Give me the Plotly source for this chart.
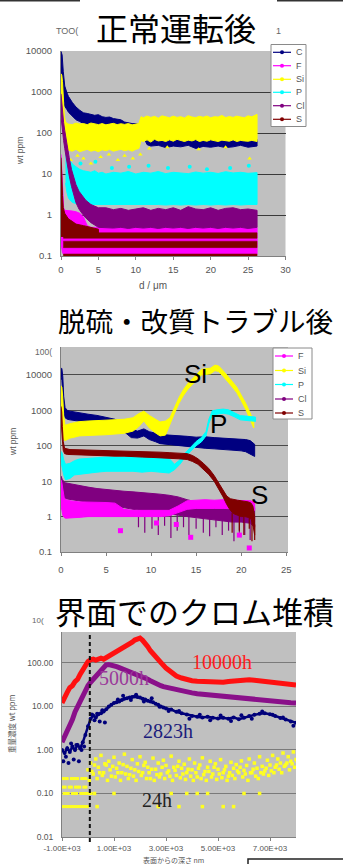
import numpy as np
import plotly.graph_objects as go

W, H = 343, 864


def px(x):
    return x / W


def py(y):
    return 1 - y / H


NAVY = "#000080"
MAGENTA = "#ff00ff"
YELLOW = "#ffff00"
CYAN = "#00ffff"
PURPLE = "#800080"
MAROON = "#800000"
PLOT_BG = "#c0c0c0"
TICK_FONT = dict(family="Liberation Sans, Arial, sans-serif", size=9.5, color="#555555")

# ---------------------------------------------------------------- chart 1: 正常運転後
C1_x = [0, 0.15, 0.3, 0.5, 0.8, 1.0, 1.5, 2.0, 2.5, 3.0, 3.5, 4.0, 4.5, 5.0, 5.5, 6.0, 6.5, 7.0, 7.5, 8.0,
        8.5, 9.0, 9.5, 10.0, 10.5, 11.0, 11.5, 12, 13, 14, 15, 16, 17, 18, 19, 20, 21, 22, 23, 24, 25, 26.2]
C1_hi = [9800, 8000, 3200, 1400, 950, 780, 560, 430, 360, 310, 300, 285, 270, 280, 250, 240, 245, 225, 215, 210,
         185, 175, 170, 168, 160, 120, 80, 72, 70, 68, 74, 66, 70, 72, 65, 68, 74, 70, 66, 72, 68, 70]
C1_lo = [2400, 1600, 800, 450, 370, 320, 260, 210, 190, 170, 160, 165, 150, 150, 140, 145, 135, 140, 130, 130,
         140, 145, 150, 150, 130, 80, 52, 48, 50, 44, 48, 46, 50, 42, 47, 45, 48, 44, 46, 50, 45, 48]

F1_x = [0, 0.1, 0.2, 0.35, 0.5, 1.0, 1.5, 2.0, 2.5, 3.0, 3.5, 4.0, 26.2]
F1_hi = [30, 12, 3, 1.5, 1.3, 1.3, 1.25, 1.2, 1.1, 0.9, 0.55, 0.5, 0.5]
F1_lo = [0.2, 0.15, 0.12, 0.11, 0.11, 0.11, 0.11, 0.11, 0.11, 0.11, 0.11, 0.11, 0.11]

Si1_x = [0, 0.1, 0.2, 0.3, 0.45, 0.6, 0.8, 1.0, 1.5, 2.0, 2.5, 3.0, 3.5, 4.0, 4.5, 5.0, 5.5, 6.0, 6.5, 7.0,
         7.5, 8.0, 8.5, 9.0, 9.5, 10.0, 10.4, 10.7, 11.0, 11.5, 12, 12.5, 13, 13.5, 14, 14.5, 15, 15.5, 16,
         16.5, 17, 17.5, 18, 18.5, 19, 19.5, 20, 20.5, 21, 21.5, 22, 22.5, 23, 23.5, 24, 24.5, 25, 25.5, 26.2]
Si1_hi = [2800, 2600, 1800, 700, 250, 190, 170, 165, 160, 175, 165, 170, 160, 175, 165, 160, 170, 158, 165, 172,
          160, 168, 162, 170, 158, 165, 170, 250, 235, 260, 240, 255, 230, 262, 245, 235, 258, 240, 250,
          232, 265, 245, 238, 255, 242, 260, 235, 250, 245, 268, 238, 252, 240, 258, 246, 235, 262, 248, 285]
Si1_lo = [600, 400, 250, 110, 60, 45, 40, 38, 36, 40, 35, 38, 40, 36, 38, 35, 39, 37, 40, 36,
          38, 40, 37, 39, 36, 40, 42, 65, 62, 68, 60, 70, 64, 66, 62, 68, 63, 70, 65,
          62, 67, 64, 69, 62, 66, 63, 68, 64, 62, 67, 65, 63, 68, 62, 66, 64, 63, 66, 62]
Si1_dip_x = [1.3, 2.2, 3.0, 4.0, 4.6, 5.3, 6.4, 7.6, 8.5, 9.6, 10.6, 11.8, 14.2, 18.4, 22.0, 25.2]
Si1_dip_v = [22, 28, 24, 18, 20, 26, 30, 22, 28, 24, 30, 42, 45, 40, 45, 24]

P1_x = [0.6, 0.8, 1.0, 1.3, 1.6, 2.0, 2.5, 3.0, 3.5, 4, 4.5, 5, 5.5, 6, 7, 8, 9, 10, 11, 12, 13, 14, 15, 16,
        17, 18, 19, 20, 21, 22, 23, 24, 25, 26.2]
P1_hi = [30, 26, 22, 20, 17, 15, 13, 12, 11.5, 11, 12, 10.5, 11, 10, 11, 10.5, 11.5, 10, 11, 10.5, 11.5, 10.2,
         11, 10.8, 10.2, 11.2, 10.5, 11, 10.3, 11.4, 10.6, 11, 10.4, 10.8]
P1_lo = [6, 3.5, 2.6, 2.2, 2.0, 1.9, 1.8, 1.85, 1.8, 1.75, 1.8, 1.8, 1.75, 1.8, 1.75, 1.8, 1.75, 1.8, 1.75,
         1.8, 1.8, 1.75, 1.8, 1.75, 1.8, 1.75, 1.8, 1.75, 1.8, 1.75, 1.8, 1.75, 1.8, 1.8]
P1_peak_x = [2.6, 4.6, 6.8, 9.1, 11.7, 14.3, 17.2, 19.5, 22.6, 25.1]
P1_peak_v = [18, 20, 14, 15, 16, 14, 15, 13, 14, 16]

Cl1_x = [0, 0.08, 0.15, 0.25, 0.35, 0.5, 0.7, 0.9, 1.1, 1.4, 1.7, 2.0, 2.4, 2.8, 3.3, 4, 5, 6, 7, 8, 9, 10,
         11, 12, 13, 14, 15, 16, 17, 18, 19, 20, 21, 22, 23, 24, 25, 26.2]
Cl1_hi = [900, 600, 400, 260, 180, 115, 65, 40, 25, 13, 8.5, 5.5, 3.8, 3.0, 2.3, 1.8, 1.5, 1.5, 1.35, 1.45,
          1.3, 1.4, 1.5, 1.3, 1.45, 1.35, 1.5, 1.3, 1.6, 1.4, 1.35, 1.5, 1.3, 1.45, 1.5, 1.35, 1.4, 1.3]
Cl1_lo = [250, 200, 150, 95, 65, 42, 24, 14, 9, 5, 3, 2, 1.4, 1.1, 0.85, 0.65, 0.5, 0.5, 0.48, 0.5,
          0.47, 0.5, 0.48, 0.5, 0.47, 0.5, 0.48, 0.5, 0.47, 0.5, 0.48, 0.5, 0.47, 0.5, 0.48, 0.5, 0.47, 0.5]

S1_x = [0, 0.05, 0.12, 0.2, 0.3, 0.5, 1.0, 1.5, 2.0, 3.0, 4.0, 5.0]
S1_hi = [25, 18, 8, 3, 1.5, 1.1, 0.8, 0.7, 0.6, 0.55, 0.5, 0.45]
S1_lo = [0.3, 0.3, 0.3, 0.3, 0.3, 0.3, 0.3, 0.3, 0.3, 0.3, 0.3, 0.3]
S1_level_lo = [0.27, 0.16, 0.100]
S1_level_hi = [0.37, 0.23, 0.112]
S1_span = [0.3, 26.2]

# ---------------------------------------------------------------- chart 2: 脱硫・改質トラブル後
C2_x = [0, 0.1, 0.2, 0.3, 0.45, 0.7, 1, 1.5, 2, 3, 4, 5, 6, 7, 7.8, 8.5, 9.2, 9.8, 10.5, 11, 12, 13, 14, 15,
        16, 17, 18, 19, 20, 20.5, 21, 21.5]
C2_hi = [16000, 15000, 9000, 2500, 1200, 1000, 950, 900, 850, 780, 720, 650, 560, 420, 290, 260, 300, 250,
         230, 210, 200, 195, 185, 175, 180, 170, 165, 160, 155, 150, 140, 110]
C2_lo = [9000, 7000, 3000, 1000, 620, 560, 540, 520, 490, 450, 420, 390, 330, 250, 170, 165, 190, 150,
         130, 115, 105, 100, 95, 90, 85, 82, 80, 76, 72, 68, 60, 50]

Si2_x = [0, 0.1, 0.2, 0.3, 0.45, 0.7, 1, 1.5, 2, 3, 4, 5, 6, 7, 8, 8.6, 9.2, 9.8, 10.5, 11, 11.6, 12.1,
         12.6, 13.1, 13.6, 14.1, 14.6, 15.1, 15.6, 16.1, 16.6, 17.1, 17.5, 18.0, 18.5, 19.0, 19.5, 20.0,
         20.5, 21.0, 21.4]
Si2_hi = [5000, 4500, 2200, 700, 380, 390, 420, 450, 480, 500, 510, 520, 530, 560, 620, 800, 950, 720, 560,
          470, 500, 620, 1200, 2300, 3900, 5800, 7800, 10800, 14400, 15000, 15600, 19000, 18000, 13200,
          9600, 6600, 4600, 2800, 1600, 850, 460]
Si2_lo = [2000, 1500, 400, 150, 140, 150, 165, 175, 190, 195, 200, 205, 210, 225, 260, 340, 500, 320, 230,
          190, 200, 400, 830, 1580, 2650, 4000, 5400, 7500, 10000, 10400, 10800, 13300, 12500, 9200,
          6700, 4600, 3200, 1900, 1080, 580, 320]

P2_x = [0, 0.15, 0.3, 0.5, 1, 1.5, 2, 3, 4, 5, 6, 7, 8, 9, 10, 11, 12, 12.6, 13.2, 13.8, 14.4, 15.0, 15.6,
        16.1, 16.4, 16.8, 17.3, 18.0, 18.6, 19.3, 19.9, 20.5, 21.0, 21.6]
P2_hi = [70, 60, 40, 30, 32, 38, 42, 45, 46, 48, 48, 50, 48, 46, 48, 46, 44, 30, 40, 63, 92, 132, 172, 253,
         552, 980, 1035, 1090, 1035, 860, 710, 690, 670, 645]
P2_lo = [35, 25, 15, 11, 12, 15, 16, 17, 18, 19, 19, 19, 19, 18, 19, 18, 17, 21, 30, 48, 70, 100, 130, 190,
         420, 740, 780, 830, 780, 650, 540, 520, 500, 490]

Cl2_x = [0, 0.15, 0.3, 0.5, 1, 2, 3, 4, 5, 6, 7, 8, 9, 10, 11, 12, 13, 14, 15, 16, 17, 18, 19, 20, 21, 21.5]
Cl2_hi = [14, 11, 10, 9, 8.5, 7.5, 6.8, 6.2, 5.8, 5.5, 5.2, 5.0, 4.8, 4.5, 4.3, 4.0, 3.6, 3.0, 2.6, 2.4,
          2.3, 2.2, 2.2, 2.1, 2.0, 1.8]
Cl2_lo = [5, 4, 3.5, 3.2, 3.0, 2.8, 2.5, 2.3, 2.1, 2.0, 1.8, 1.6, 1.5, 1.4, 1.3, 1.2, 1.1, 1.0, 0.9, 0.85,
          0.8, 0.75, 0.7, 0.7, 0.65, 0.5]
Cl2_drop_x = [8.6, 9.3, 10.1, 10.8, 11.5, 12.2, 12.9, 13.6, 14.2, 15.0, 15.8, 16.5, 17.2, 17.9, 18.6, 19.2,
              19.8, 20.4, 21.0]
Cl2_drop_from = [1.6, 1.5, 1.4, 1.4, 1.3, 1.2, 1.1, 1.1, 1.0, 0.9, 0.9, 0.85, 0.8, 0.8, 0.75, 0.7, 0.7, 0.7, 0.65]
Cl2_drop_to = [0.5, 0.35, 0.45, 0.3, 0.55, 0.25, 0.4, 0.5, 0.3, 0.45, 0.35, 0.28, 0.5, 0.3, 0.4, 0.2, 0.35,
               0.3, 0.22]

F2_x = [0, 0.1, 0.2, 0.35, 0.5, 1, 2, 3, 4, 5, 6, 7, 8, 9, 10, 11, 12, 13, 14, 15, 16, 17, 18, 19, 20, 21, 21.5]
F2_hi = [11, 9, 6, 3.5, 3, 2.8, 2.6, 2.6, 2.5, 2.5, 2.4, 1.6, 1.5, 1.5, 1.45, 1.5, 1.5, 2.0, 2.8, 2.9, 3.0,
         2.9, 3.0, 2.9, 2.9, 2.8, 2.6]
F2_lo = [2, 1.5, 1.1, 0.95, 0.9, 0.9, 0.95, 1.0, 1.0, 1.0, 1.05, 1.0, 1.0, 1.0, 1.0, 1.0, 1.05, 1.3, 1.6, 1.7,
         1.7, 1.7, 1.7, 1.7, 1.65, 1.6, 1.5]
F2_out_x = [6.6, 10.6, 12.8, 14.4, 19.8, 20.9]
F2_out_v = [0.4, 0.66, 0.6, 0.26, 0.3, 0.13]

S2_x = [0, 0.08, 0.15, 0.25, 0.4, 0.7, 1, 2, 3, 4, 5, 6, 7, 8, 9, 10, 11, 12, 13, 14, 14.6, 15.2, 15.8,
        16.4, 17.0, 17.5, 18.0, 18.4, 18.8, 19.2, 19.6, 20.0, 20.4, 20.8, 21.1, 21.3, 21.5]
S2_hi = [1300, 900, 350, 130, 85, 80, 78, 77, 76, 75, 74, 73, 71, 70, 68, 67, 66, 64, 62, 60, 53, 43, 32, 23,
         14.5, 9, 5.5, 3.8, 3.2, 3.0, 2.9, 2.8, 2.7, 2.6, 2.4, 2.0, 1.0]
S2_lo = [600, 400, 150, 75, 60, 57, 55, 54, 53, 53, 52, 51, 51, 50, 48, 47, 46, 45, 43, 41, 36, 30, 22, 15.5,
         10, 6.2, 3.6, 2.2, 1.5, 1.2, 1.1, 1.0, 1.0, 0.95, 0.85, 0.6, 0.3]
S2_drop_x = [19.0, 19.8, 20.3, 20.9, 21.2, 21.5]
S2_drop_from = [1.3, 1.1, 1.0, 0.95, 0.8, 0.6]
S2_drop_to = [0.35, 0.4, 0.3, 0.45, 0.2, 0.22]

# ---------------------------------------------------------------- chart 3: 界面でのクロム堆積 (depth in nm)
depth = [-1000, -900, -800, -700, -600, -500, -400, -300, -200, -100,
         0, 100, 200, 300, 400, 500, 600, 700, 800, 900,
         1000, 1100, 1200, 1300, 1400, 1500, 1600, 1700, 1800, 1900,
         2000, 2100, 2200, 2300, 2400, 2500, 2600, 2700, 2800, 2900,
         3000, 3200, 3400, 3600, 3800, 4000, 4200, 4400, 4600, 4800,
         5000, 5200, 5400, 5600, 5800, 6000, 6200, 6400, 6600, 6800,
         7000, 7200, 7400, 7600, 7800, 8000]
cr_10000h = [12, 15, 21, 27, 30, 37, 42, 55, 72, 90,
             108, 118, 122, 116, 124, 128, 122, 132, 148, 160,
             172, 182, 192, 212, 232, 250, 268, 300, 335, 365,
             370, 330, 285, 235, 190, 160, 135, 118, 100, 88,
             76, 62, 50, 45, 41, 39, 38, 37.5, 36.5, 38,
             37, 36, 37.5, 38.5, 39, 40.5, 41, 40, 38.5, 37.5,
             36, 35.5, 34, 33, 32, 31]
cr_5000h = [1.5, 2.0, 2.7, 3.5, 5.0, 7.5, 10, 13, 18, 24,
            30, 36, 42, 48, 58, 70, 82, 90, 92, 90,
            86, 82, 78, 74, 70, 66, 62, 60, 57, 55,
            52, 48, 45, 42, 39, 36, 34, 32, 30, 28.5,
            27.5, 26, 24.5, 23, 22, 20.5, 19.5, 19, 18, 17.5,
            17, 16.5, 16, 15.5, 15, 14.5, 14.2, 14, 13.5, 13.2,
            13, 12.8, 12.5, 12.3, 12.2, 12]
cr_2823h = [1.0, 0.85, 1.1, 0.9, 1.2, 1.0, 1.3, 1.1, 1.5, 2.2,
            3.5, 5.2, 6.2, 5.6, 6.6, 7.0, 7.6, 8.6, 10, 11,
            12, 12.5, 13, 14, 15, 15.5, 16, 16.5, 17, 16.5,
            16, 15, 14.5, 13.5, 13, 12.5, 11.5, 11, 10, 9.5,
            9, 8.5, 7.5, 7, 6.5, 6, 5.8, 5.6, 5.8, 5.5,
            5.3, 5.5, 5.2, 5.6, 5.1, 5.5, 6.0, 6.4, 6.8, 7.0,
            6.6, 6.0, 5.4, 5.0, 4.5, 4.2]
cr_2823h_scatter_x = [-950, -850, -750, -650, -550, -450, -350, -250, -150, 150, 250, 350, 450, 550, 650,
                      1150, 1350, 1650, 1850, 2150, 2450, 2750, 3100, 3500, 3900, 4300, 4700, 5100, 5500,
                      5900, 6300, 6700, 7100, 7500, 7900]
cr_2823h_scatter_v = [0.55, 0.7, 0.5, 1.4, 0.6, 1.3, 0.55, 1.0, 1.2, 6.5, 4.8, 6.8, 4.5, 8.2, 4.3,
                      14.5, 17.5, 14, 18.5, 13, 15.5, 9.8, 7.8, 7.9, 5.2, 6.4, 4.8, 6.2, 4.6,
                      6.3, 5.2, 7.6, 6.4, 5.6, 3.6]

# 24h: quantised levels in the oxide (one depth list per level), then a scattered band in the metal
cr_24h_pre_levels = [0.22, 0.14, 0.10, 0.05]
cr_24h_pre_depth = [
    [-960, -880, -800, -640, -560, -480, -400, -240, -160, -80],
    [-960, -880, -720, -640, -480, -400, -320, -160, -80],
    [-920, -840, -760, -600, -520, -440, -280, -200, -120, -40, 40, 120],
    [-980, -900, -820, -740, -660, -580, -500, -420, -340, -260, -180, -100, -20],
]
cr_24h_step = 100
cr_24h_a = [0.35, 0.5, 0.28, 0.62, 0.4, 0.75, 0.3, 0.45, 0.55, 0.25, 0.68, 0.38, 0.5, 0.3, 0.8, 0.42, 0.27,
            0.6, 0.35, 0.48, 0.7, 0.3, 0.52, 0.4, 0.22, 0.65, 0.36, 0.5, 0.28, 0.58, 0.44, 0.33, 0.72, 0.4,
            0.26, 0.55, 0.38, 0.47, 0.3, 0.62, 0.35, 0.5, 0.24, 0.45, 0.66, 0.32, 0.4, 0.55, 0.28, 0.48,
            0.36, 0.6, 0.3, 0.42, 0.25, 0.52, 0.38, 0.46, 0.3, 0.56, 0.34, 0.44, 0.62, 0.3, 0.5, 0.38, 0.7,
            0.42, 0.33, 0.58, 0.45, 0.75, 0.4, 0.62, 0.5, 0.85, 0.45, 0.7, 0.55, 0.9, 0.6]
cr_24h_b = [0.2, 0.32, 0.45, 0.22, 0.3, 0.26, 0.48, 0.2, 0.35, 0.42, 0.24, 0.3, 0.2, 0.46, 0.28, 0.22, 0.38,
            0.25, 0.2, 0.32, 0.26, 0.44, 0.22, 0.3, 0.36, 0.2, 0.27, 0.24, 0.4, 0.22, 0.3, 0.25, 0.2, 0.34,
            0.42, 0.23, 0.28, 0.21, 0.36, 0.25, 0.2, 0.3, 0.38, 0.22, 0.27, 0.2, 0.32, 0.24, 0.4, 0.21,
            0.28, 0.23, 0.35, 0.2, 0.3, 0.26, 0.22, 0.33, 0.4, 0.24, 0.28, 0.2, 0.3, 0.36, 0.25, 0.22, 0.3,
            0.28, 0.38, 0.26, 0.33, 0.3, 0.45, 0.36, 0.3, 0.42, 0.5, 0.35, 0.48, 0.4, 0.55]
cr_24h_low_x = [250, 350, 1000, 2700, 3200, 3500, 3800, 4200, 4400, 4600, 5200, 5600, 6000, 6600]
cr_24h_low_v = [0.10, 0.05, 0.10, 0.05, 0.10, 0.05, 0.10, 0.10, 0.05, 0.10, 0.05, 0.05, 0.10, 0.10]
interface_depth = 70

fig = go.Figure()


def band(x, lo, hi, color, xa, ya, width=1.0):
    xs = list(x) + list(x)[::-1]
    ys = list(hi) + list(lo)[::-1]
    return go.Scatter(x=xs, y=ys, mode="lines", fill="toself", fillcolor=color,
                      line=dict(color=color, width=width), xaxis=xa, yaxis=ya,
                      hoverinfo="skip", showlegend=False)


def dots(x, v, color, xa, ya, size=4, symbol="circle"):
    return go.Scatter(x=x, y=v, mode="markers", marker=dict(color=color, size=size, symbol=symbol,
                      line=dict(width=0)), xaxis=xa, yaxis=ya, hoverinfo="skip", showlegend=False)


def drops(x, v_from, v_to, color, xa, ya):
    xs, ys = [], []
    for a, b, c in zip(x, v_from, v_to):
        xs += [a, a, None]
        ys += [b, c, None]
    return go.Scatter(x=xs, y=ys, mode="lines", line=dict(color=color, width=1.2),
                      xaxis=xa, yaxis=ya, hoverinfo="skip", showlegend=False)


# chart 1 traces (series order C, F, Si, P, Cl, S)
fig.add_trace(band(C1_x, C1_lo, C1_hi, NAVY, "x", "y"))
fig.add_trace(band(F1_x, F1_lo, F1_hi, MAGENTA, "x", "y"))
fig.add_trace(band(Si1_x, Si1_lo, Si1_hi, YELLOW, "x", "y"))
fig.add_trace(dots(Si1_dip_x, Si1_dip_v, YELLOW, "x", "y", size=4, symbol="triangle-up"))
fig.add_trace(band(P1_x, P1_lo, P1_hi, CYAN, "x", "y"))
fig.add_trace(dots(P1_peak_x, P1_peak_v, CYAN, "x", "y", size=4))
fig.add_trace(band(Cl1_x, Cl1_lo, Cl1_hi, PURPLE, "x", "y"))
fig.add_trace(band(S1_x, S1_lo, S1_hi, MAROON, "x", "y"))
for lo, hi in zip(S1_level_lo, S1_level_hi):
    fig.add_trace(band(S1_span, [lo, lo], [hi, hi], MAROON, "x", "y", width=0.5))

# chart 2 traces
fig.add_trace(band(C2_x, C2_lo, C2_hi, NAVY, "x2", "y2"))
fig.add_trace(band(Si2_x, Si2_lo, Si2_hi, YELLOW, "x2", "y2"))
fig.add_trace(band(P2_x, P2_lo, P2_hi, CYAN, "x2", "y2"))
fig.add_trace(band(Cl2_x, Cl2_lo, Cl2_hi, PURPLE, "x2", "y2"))
fig.add_trace(drops(Cl2_drop_x, Cl2_drop_from, Cl2_drop_to, PURPLE, "x2", "y2"))
fig.add_trace(band(F2_x, F2_lo, F2_hi, MAGENTA, "x2", "y2"))
fig.add_trace(dots(F2_out_x, F2_out_v, MAGENTA, "x2", "y2", size=5, symbol="square"))
fig.add_trace(band(S2_x, S2_lo, S2_hi, MAROON, "x2", "y2"))
fig.add_trace(drops(S2_drop_x, S2_drop_from, S2_drop_to, MAROON, "x2", "y2"))

# chart 3 traces
pre_x, pre_v = [], []
for lv, row in zip(cr_24h_pre_levels, cr_24h_pre_depth):
    pre_x += row
    pre_v += [lv] * len(row)
post_a_x = [i * cr_24h_step for i in range(len(cr_24h_a))]
post_b_x = [i * cr_24h_step + cr_24h_step / 2 for i in range(len(cr_24h_b))]
Y24 = "#ffff20"
fig.add_trace(dots(pre_x, pre_v, Y24, "x3", "y3", size=3, symbol="square"))
fig.add_trace(dots(post_a_x, cr_24h_a, Y24, "x3", "y3", size=3.5, symbol="square"))
fig.add_trace(dots(post_b_x, cr_24h_b, Y24, "x3", "y3", size=3.5, symbol="square"))
fig.add_trace(dots(cr_24h_low_x, cr_24h_low_v, Y24, "x3", "y3", size=3.5, symbol="square"))

fig.add_trace(go.Scatter(x=depth, y=cr_2823h, mode="lines+markers", line=dict(color="#00007a", width=2.5),
                         marker=dict(color="#00007a", size=4), xaxis="x3", yaxis="y3",
                         hoverinfo="skip", showlegend=False))
fig.add_trace(dots(cr_2823h_scatter_x, cr_2823h_scatter_v, "#00007a", "x3", "y3", size=4))
fig.add_trace(go.Scatter(x=depth, y=cr_5000h, mode="lines", line=dict(color="#8a108a", width=5),
                         xaxis="x3", yaxis="y3", hoverinfo="skip", showlegend=False))
fig.add_trace(go.Scatter(x=depth, y=cr_10000h, mode="lines", line=dict(color="#ff1010", width=5),
                         xaxis="x3", yaxis="y3", hoverinfo="skip", showlegend=False))


# ---------------------------------------------------------------- axes
def xax(dom, rng, tv, tt, standoff, size=9.5):
    return dict(domain=[px(dom[0]), px(dom[1])], range=rng, tickvals=tv, ticktext=tt,
                showgrid=False, zeroline=False, showline=True, linecolor="#808080", linewidth=1,
                ticks="outside", ticklen=3, tickcolor="#808080", ticklabelstandoff=standoff,
                tickfont=dict(TICK_FONT, size=size), fixedrange=True, automargin=False)


def yax(dom, rng, tv, tt, gridcolor, size=9.5):
    return dict(domain=[py(dom[1]), py(dom[0])], type="log", range=rng, tickvals=tv, ticktext=tt,
                showgrid=True, gridcolor=gridcolor, gridwidth=1, zeroline=False, showline=True,
                linecolor="#808080", linewidth=1, ticks="", ticklabelstandoff=6,
                tickfont=dict(TICK_FONT, size=size), fixedrange=True, automargin=False)


dec_vals = [0.1, 1, 10, 100, 1000, 10000]
dec_text = ["0.1", "1", "10", "100", "1000", "10000"]

layout = dict(
    width=W, height=H, margin=dict(l=0, r=0, t=0, b=0, pad=0, autoexpand=False),
    paper_bgcolor="white", plot_bgcolor=PLOT_BG, showlegend=False,
    xaxis=dict(xax((61, 285.5), [0, 30], [0, 5, 10, 15, 20, 25, 30],
                   ["0", "5", "10", "15", "20", "25", "30"], 2), anchor="y"),
    yaxis=dict(yax((51, 256), [-1, 4], dec_vals, dec_text, "#3a3a3a"), anchor="x"),
    xaxis2=dict(xax((61, 288), [0, 25.2], [0, 5, 10, 15, 20, 25],
                    ["0", "5", "10", "15", "20", "25"], 6), anchor="y2"),
    yaxis2=dict(yax((347, 552), [-1, 4.79], dec_vals, dec_text, "#4a4a4a"), anchor="x2"),
    xaxis3=dict(xax((62, 296), [-1000, 8000], [-1000, 1000, 3000, 5000, 7000],
                    ["-1.00E+03", "1.00E+03", "3.00E+03", "5.00E+03", "7.00E+03"], 0, size=8),
                anchor="y3"),
    yaxis3=dict(yax((632, 837), [-2, 2.71], [0.01, 0.1, 1, 10, 100],
                    ["0.01", "0.10", "1.00", "10.00", "100.00"], "#7a7a7a", size=8.5), anchor="x3"),
)
fig.update_layout(**layout)

shapes = []
annotations = []

# thin frame remnants along the top edge
shapes.append(dict(type="line", xref="paper", yref="paper", x0=0, x1=px(80), y0=py(0.8), y1=py(0.8),
                   line=dict(color="#333333", width=1.6)))
shapes.append(dict(type="line", xref="paper", yref="paper", x0=px(277), x1=1, y0=py(0.8), y1=py(0.8),
                   line=dict(color="#333333", width=1.6)))

# interface marker in chart 3
shapes.append(dict(type="line", xref="x3", yref="paper", x0=interface_depth, x1=interface_depth,
                   y0=py(842), y1=py(632), line=dict(color="#111111", width=2, dash="4px,3px")))

# frame at the lower right corner
shapes.append(dict(type="rect", xref="paper", yref="paper", x0=px(248), x1=px(352), y0=py(880), y1=py(859),
                   line=dict(color="#222222", width=1.5), fillcolor="rgba(0,0,0,0)"))


def legend(box, names, colors, ys, lx0, lx1, tx):
    x0, y0, x1, y1 = box
    shapes.append(dict(type="rect", xref="paper", yref="paper", x0=px(x0), x1=px(x1), y0=py(y1), y1=py(y0),
                       line=dict(color="#8a8a8a", width=1), fillcolor="white", layer="above"))
    mx = (lx0 + lx1) / 2
    for name, col, y in zip(names, colors, ys):
        shapes.append(dict(type="line", xref="paper", yref="paper", x0=px(lx0), x1=px(lx1), y0=py(y), y1=py(y),
                           line=dict(color=col, width=1.2), layer="above"))
        shapes.append(dict(type="circle", xref="paper", yref="paper", x0=px(mx - 2), x1=px(mx + 2),
                           y0=py(y + 2), y1=py(y - 2), fillcolor=col, line=dict(color=col, width=0),
                           layer="above"))
        annotations.append(dict(x=px(tx), y=py(y), xref="paper", yref="paper", text=name, showarrow=False,
                                xanchor="left", yanchor="middle",
                                font=dict(family="Liberation Sans, Arial", size=9, color="#555555")))


legend((271, 44.5, 306, 126.5), ["C", "F", "Si", "P", "Cl", "S"],
       [NAVY, MAGENTA, YELLOW, CYAN, PURPLE, MAROON], [52.3, 65.7, 79.3, 92.3, 105.7, 119.3], 273, 291, 294)
legend((273, 348, 312, 419), ["F", "Si", "P", "Cl", "S"],
       [MAGENTA, YELLOW, CYAN, PURPLE, MAROON], [356, 370.5, 384.5, 399, 413], 275, 293, 296)


def note(x, y, text, size, color="#000000", family="Noto Sans CJK JP", angle=0, xanchor="center"):
    annotations.append(dict(x=px(x), y=py(y), xref="paper", yref="paper", text=text, showarrow=False,
                            xanchor=xanchor, yanchor="middle", textangle=angle,
                            font=dict(family=family, size=size, color=color)))


SANS = "Liberation Sans, Arial, sans-serif"
SERIF = "Liberation Serif, Times New Roman, serif"

# headings
note(176, 27, "正常運転後", 32)
note(195, 320, "脱硫・改質トラブル後", 27.5)
note(194, 610, "界面でのクロム堆積", 31)

# partially hidden source labels
note(67, 31, "TOO(", 9, "#666666", SANS)
note(278, 31, "1", 9, "#666666", SANS)
note(43, 352, "100(", 8.5, "#666666", SANS)
note(38, 620, "10(", 8, "#666666", SANS)

# axis titles
note(20, 151, "wt ppm", 8.5, "#555555", SANS, angle=-90)
note(153, 285, "d / μm", 10, "#555555", SANS)
note(13, 442, "wt ppm", 8.5, "#555555", SANS, angle=-90)
note(11, 724, "重量濃度 wt ppm", 7.5, "#555555", "Noto Sans CJK JP", angle=-90)
note(173, 859.5, "表面からの深さ nm", 7, "#555555", "Noto Sans CJK JP")

# element labels in chart 2
note(195, 374, "Si", 26, "#000000", SANS)
note(218, 424, "P", 26, "#000000", SANS)
note(259, 495, "S", 26, "#000000", SANS)

# exposure-time labels in chart 3
note(222, 662, "10000h", 20, "#ff2020", SERIF)
note(124, 678, "5000h", 20, "#9a3a9a", SERIF)
note(168, 731, "2823h", 20, "#1c1c7c", SERIF)
note(157, 800, "24h", 20, "#222222", SERIF)

fig.update_layout(shapes=shapes, annotations=annotations)
fig.write_html("out.html")
